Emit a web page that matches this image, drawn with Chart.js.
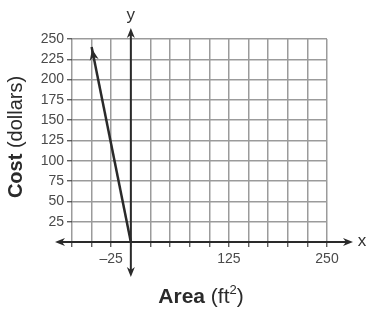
<!DOCTYPE html>
<html>
<head>
<meta charset="utf-8">
<script src="https://cdn.jsdelivr.net/npm/chart.js@4.4.1/dist/chart.umd.min.js"></script>
<style>
  html, body { margin: 0; padding: 0; background: #fff; }
</style>
</head>
<body>
<canvas id="myChart" width="370" height="312"></canvas>
<script>
// data
var areaValues = [0, -50];
var costValues = [0, 240];
var xLabels = [-25, 125, 250];
var yLabels = [25, 50, 75, 100, 125, 150, 175, 200, 225, 250];

var gridColor = "#9b9b9b";
var inkColor = "#2a2a2a";

function arrowHead(ctx, x, y, ang, len, half) {
    ctx.save();
    ctx.translate(x, y);
    ctx.rotate(ang);
    ctx.beginPath();
    ctx.moveTo(0, 0);
    ctx.lineTo(-len, -half);
    ctx.lineTo(-len * 0.7, 0);
    ctx.lineTo(-len, half);
    ctx.closePath();
    ctx.fill();
    ctx.restore();
}

// axes with arrows, line arrow, axis titles
var decorations = {
    id: "decorations",
    afterDraw: function(chart) {
        var ctx = chart.ctx;
        var xs = chart.scales.x;
        var ys = chart.scales.y;
        var area = chart.chartArea;
        var x0 = xs.getPixelForValue(0);
        var y0 = ys.getPixelForValue(0);

        ctx.save();
        ctx.strokeStyle = inkColor;
        ctx.fillStyle = inkColor;
        ctx.lineWidth = 2;

        // x axis
        var xl = area.left - 17, xr = area.right + 26;
        ctx.beginPath();
        ctx.moveTo(xl + 4, y0);
        ctx.lineTo(xr - 4, y0);
        ctx.stroke();
        arrowHead(ctx, xr, y0, 0, 10, 4);
        arrowHead(ctx, xl, y0, Math.PI, 10, 4);

        // y axis
        var yt = area.top - 11, yb = area.bottom + 35;
        ctx.beginPath();
        ctx.moveTo(x0, yt + 4);
        ctx.lineTo(x0, yb - 4);
        ctx.stroke();
        arrowHead(ctx, x0, yt, -Math.PI / 2, 10, 4);
        arrowHead(ctx, x0, yb, Math.PI / 2, 10, 4);

        // arrow at the end of the cost line
        var meta = chart.getDatasetMeta(0);
        var p0 = meta.data[meta.data.length - 2];
        var p1 = meta.data[meta.data.length - 1];
        var ang = Math.atan2(p1.y - p0.y, p1.x - p0.x);
        arrowHead(ctx, p1.x - Math.cos(ang) * 2, p1.y - Math.sin(ang) * 2, ang, 11, 4.5);

        // axis letters
        ctx.font = "17px 'Liberation Sans', Arial, sans-serif";
        ctx.fillStyle = "#333";
        ctx.textAlign = "center";
        ctx.textBaseline = "middle";
        ctx.fillText("y", x0, 15);
        ctx.fillText("x", xr + 9, y0 - 1);

        // x title: Area (ft²)
        ctx.fillStyle = inkColor;
        ctx.textBaseline = "alphabetic";
        ctx.textAlign = "left";
        var bold = "bold 21px 'Liberation Sans', Arial, sans-serif";
        var norm = "21px 'Liberation Sans', Arial, sans-serif";
        var sup = "13px 'Liberation Sans', Arial, sans-serif";
        ctx.font = bold;
        var w1 = ctx.measureText("Area ").width;
        ctx.font = norm;
        var w2 = ctx.measureText("(ft").width;
        ctx.font = sup;
        var w3 = ctx.measureText("2").width;
        ctx.font = norm;
        var w4 = ctx.measureText(")").width;
        var sx = 201 - (w1 + w2 + w3 + w4) / 2;
        var by = 303;
        ctx.font = bold;
        ctx.fillText("Area ", sx, by);
        ctx.font = norm;
        ctx.fillText("(ft", sx + w1, by);
        ctx.font = sup;
        ctx.fillText("2", sx + w1 + w2, by - 9);
        ctx.font = norm;
        ctx.fillText(")", sx + w1 + w2 + w3, by);

        // y title: Cost (dollars)
        ctx.save();
        ctx.translate(22, 137);
        ctx.rotate(-Math.PI / 2);
        ctx.font = "bold 20px 'Liberation Sans', Arial, sans-serif";
        var c1 = ctx.measureText("Cost ").width;
        ctx.font = "20px 'Liberation Sans', Arial, sans-serif";
        var c2 = ctx.measureText("(dollars)").width;
        var cx = -(c1 + c2) / 2;
        ctx.font = "bold 20px 'Liberation Sans', Arial, sans-serif";
        ctx.fillText("Cost ", cx, 0);
        ctx.font = "20px 'Liberation Sans', Arial, sans-serif";
        ctx.fillText("(dollars)", cx + c1, 0);
        ctx.restore();

        ctx.restore();
    }
};

var points = areaValues.map(function(a, i) {
    return { x: a, y: costValues[i] };
});

const ctx = document.getElementById("myChart");
new Chart(ctx, {
    type: "scatter",
    data: {
        datasets: [{
            data: points,
            showLine: true,
            borderColor: inkColor,
            borderWidth: 2.5,
            pointRadius: 0,
            clip: false
        }]
    },
    options: {
        responsive: false,
        animation: false,
        layout: { padding: { top: 39, right: 43, left: 0, bottom: 0 } },
        plugins: {
            legend: { display: false },
            tooltip: { enabled: false }
        },
        scales: {
            x: {
                type: "linear",
                min: -75,
                max: 250,
                afterFit: function(scale) { scale.height = 70; },
                grid: {
                    color: gridColor,
                    lineWidth: 1.5,
                    tickColor: "#444",
                    tickLength: 5,
                    tickWidth: 1.2
                },
                border: { display: false },
                ticks: {
                    stepSize: 25,
                    autoSkip: false,
                    maxRotation: 0,
                    padding: 4,
                    color: "#4a4a4a",
                    font: { family: "'Liberation Sans', Arial, sans-serif", size: 14 },
                    callback: function(v) {
                        if (xLabels.indexOf(v) < 0) return "";
                        return v < 0 ? "\u2013" + Math.abs(v) : String(v);
                    }
                }
            },
            y: {
                min: 0,
                max: 250,
                afterFit: function(scale) { scale.width = 72; },
                grid: {
                    color: gridColor,
                    lineWidth: 1.5,
                    tickColor: "#444",
                    tickLength: 5,
                    tickWidth: 1.2
                },
                border: { display: false },
                ticks: {
                    stepSize: 25,
                    padding: 3,
                    color: "#4a4a4a",
                    font: { family: "'Liberation Sans', Arial, sans-serif", size: 14 },
                    callback: function(v) {
                        return yLabels.indexOf(v) < 0 ? "" : String(v);
                    }
                }
            }
        }
    },
    plugins: [decorations]
});
</script>
</body>
</html>
